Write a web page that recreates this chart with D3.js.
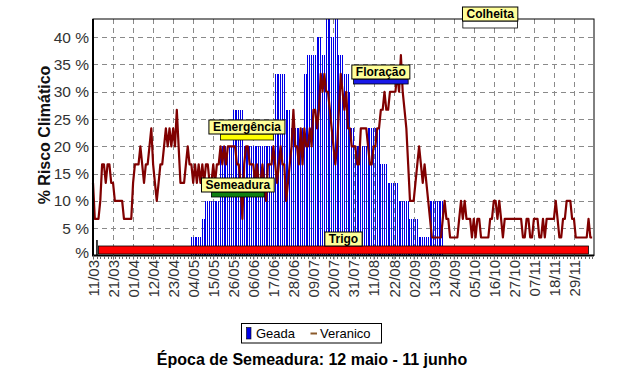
<!DOCTYPE html>
<html>
<head>
<meta charset="utf-8">
<script src="https://cdn.jsdelivr.net/npm/d3@7"></script>
<style>
  body { margin: 0; background: #fff; }
  svg { display: block; font-family: Arial, "Liberation Sans", sans-serif; }
</style>
</head>
<body>
<svg id="chart" width="625" height="389"></svg>
<script>

// rótulos do eixo x (um a cada 11 dias)
const tickLabels = ['11/03', '21/03', '01/04', '12/04', '23/04', '04/05', '15/05', '26/05', '06/06',
  '17/06', '28/06', '09/07', '20/07', '31/07', '11/08', '22/08', '02/09', '13/09', '24/09',
  '05/10', '16/10', '27/10', '07/11', '18/11', '29/11'];

const yTicks = [0, 5, 10, 15, 20, 25, 30, 35, 40];
const yTickLabels = ['%', '5 %', '10 %', '15 %', '20 %', '25 %', '30 %', '35 %', '40 %'];

// risco diario (%)
const veranico = [
  13.3, 6.7, 6.7, 6.7, 10, 16.7, 16.7, 13.3, 16.7, 16.7,
  13.3, 13.3, 10, 10, 10, 10, 10, 6.7, 6.7, 6.7,
  6.7, 6.7, 13.3, 16.7, 16.7, 16.7, 20, 16.7, 13.3, 16.7,
  16.7, 20, 23.3, 16.7, 13.3, 10, 13.3, 16.7, 16.7, 20,
  23.3, 20, 23.3, 20, 23.3, 20, 26.7, 20, 13.3, 13.3,
  13.3, 16.7, 20, 16.7, 16.7, 13.3, 16.7, 13.3, 16.7, 13.3,
  16.7, 13.3, 16.7, 16.7, 13.3, 13.3, 16.7, 13.3, 16.7, 16.7,
  20, 16.7, 20, 16.7, 20, 20, 20, 20, 20, 16.7,
  16.7, 13.3, 6.7, 16.7, 20, 20, 16.7, 16.7, 16.7, 13.3,
  16.7, 13.3, 13.3, 16.7, 13.3, 10, 16.7, 16.7, 16.7, 20,
  16.7, 13.3, 16.7, 20, 16.7, 16.7, 10, 13.3, 16.7, 20,
  26.7, 20, 20, 16.7, 23.3, 16.7, 23.3, 20, 20, 23.3,
  20, 26.7, 26.7, 23.3, 26.7, 33.3, 30, 33.3, 30, 30,
  26.7, 23.3, 20, 16.7, 20, 26.7, 33.3, 30, 26.7, 30,
  23.3, 23.3, 20, 20, 20, 16.7, 16.7, 23.3, 23.3, 23.3,
  23.3, 20, 16.7, 16.7, 20, 20, 23.3, 23.3, 26.7, 26.7,
  30, 26.7, 26.7, 30, 30, 30, 30, 33.3, 30, 36.7,
  30, 26.7, 23.3, 16.7, 10, 10, 10, 13.3, 16.7, 20,
  16.7, 13.3, 16.7, 13.3, 10, 6.7, 3.3, 3.3, 3.3, 3.3,
  3.3, 3.3, 6.7, 10, 6.7, 6.7, 3.3, 3.3, 3.3, 3.3,
  3.3, 6.7, 10, 6.7, 10, 6.7, 6.7, 6.7, 3.3, 6.7,
  3.3, 6.7, 6.7, 3.3, 3.3, 3.3, 3.3, 3.3, 6.7, 6.7,
  10, 10, 6.7, 10, 6.7, 3.3, 6.7, 6.7, 6.7, 6.7,
  6.7, 6.7, 6.7, 6.7, 6.7, 6.7, 3.3, 3.3, 6.7, 6.7,
  3.3, 3.3, 6.7, 6.7, 6.7, 3.3, 3.3, 6.7, 3.3, 6.7,
  6.7, 6.7, 6.7, 6.7, 10, 6.7, 3.3, 3.3, 6.7, 6.7,
  10, 10, 10, 6.7, 6.7, 3.3, 3.3, 3.3, 3.3, 3.3,
  3.3, 3.3, 6.7, 3.3, 3.3
];

const geada = [
  0, 0, 0, 0, 0, 0, 0, 0, 0, 0,
  0, 0, 0, 0, 0, 0, 0, 0, 0, 0,
  0, 0, 0, 0, 0, 0, 0, 0, 0, 0,
  0, 0, 0, 0, 0, 0, 0, 0, 0, 0,
  0, 0, 0, 0, 0, 0, 0, 0, 0, 0,
  0, 0, 0, 0, 3.3, 3.3, 3.3, 3.3, 3.3, 3.3,
  6.7, 6.7, 10, 10, 10, 10, 10, 10, 10, 10,
  20, 20, 20, 20, 20, 20, 20, 26.7, 26.7, 26.7,
  26.7, 26.7, 26.7, 20, 20, 20, 20, 20, 20, 20,
  20, 20, 20, 20, 20, 20, 20, 20, 20, 20,
  33.3, 33.3, 33.3, 33.3, 33.3, 33.3, 26.7, 26.7, 26.7, 23.3,
  23.3, 23.3, 23.3, 23.3, 23.3, 23.3, 33.3, 33.3, 36.7, 36.7,
  36.7, 36.7, 36.7, 40, 40, 40, 36.7, 36.7, 43.3, 43.3,
  43.3, 40, 40, 43.3, 43.3, 36.7, 36.7, 36.7, 33.3, 33.3,
  33.3, 30, 23.3, 23.3, 20, 20, 20, 20, 20, 20,
  20, 23.3, 23.3, 23.3, 23.3, 23.3, 23.3, 23.3, 16.7, 16.7,
  16.7, 16.7, 13.3, 13.3, 13.3, 13.3, 13.3, 13.3, 10, 10,
  10, 10, 10, 10, 6.7, 6.7, 6.7, 6.7, 6.7, 3.3,
  3.3, 3.3, 3.3, 3.3, 3.3, 10, 10, 10, 10, 10,
  10, 10, 10, 0, 0, 0, 0, 0, 0, 0,
  0, 0, 0, 0, 0, 0, 0, 0, 0, 0,
  0, 0, 0, 0, 0, 0, 0, 0, 0, 0,
  0, 0, 0, 0, 0, 0, 0, 0, 0, 0,
  0, 0, 0, 0, 0, 0, 0, 0, 0, 0,
  0, 0, 0, 0, 0, 0, 0, 0, 0, 0,
  0, 0, 0, 0, 0, 0, 0, 0, 0, 0,
  0, 0, 0, 0, 0, 0, 0, 0, 0, 0,
  0, 0, 0, 0, 0
];

// fases do ciclo (indice do dia inicial e final)
const etapas = ['Semeadura', 'Emergência', 'Floração', 'Colheita', 'Trigo'];
const etapaInicio = [65, 70, 143, 203, 3];
const etapaFim = [94, 99, 173, 233, 272];

const series = ['Geada', 'Veranico'];


const svg = d3.select('#chart');

const yMax = 43.33;
const x = d3.scaleLinear().domain([0, veranico.length]).range([93, 594]);
const y = d3.scaleLinear().domain([0, yMax]).range([255.5, 19]);

const corGeada = '#0000e8';
const corVeranico = '#800000';

// grade tracejada
let drawGrid = () => {
  const g = svg.append('g')
    .attr('stroke', '#8a8a8a')
    .attr('stroke-width', 1)
    .attr('stroke-dasharray', '5,4');

  g.selectAll('line.h').data(yTicks.slice(1))
    .enter().append('line')
    .attr('x1', x(0)).attr('x2', x(veranico.length))
    .attr('y1', d => Math.round(y(d)) + 0.5)
    .attr('y2', d => Math.round(y(d)) + 0.5);

  g.selectAll('line.v').data(tickLabels.slice(1).map((d, i) => (i + 1) * 11))
    .enter().append('line')
    .attr('x1', d => Math.round(x(d)) + 0.5)
    .attr('x2', d => Math.round(x(d)) + 0.5)
    .attr('y1', y(yMax)).attr('y2', y(0));
}

let drawBars = () => {
  svg.append('g')
    .attr('shape-rendering', 'crispEdges')
    .selectAll('rect')
    .data(geada.map((v, i) => ({ i: i, v: v })).filter(d => d.v > 0))
    .enter().append('rect')
    .attr('x', d => x(d.i) - 0.5)
    .attr('width', 1)
    .attr('y', d => y(d.v))
    .attr('height', d => y(0) - y(d.v))
    .attr('fill', corGeada);
}

let drawLine = () => {
  const line = d3.line()
    .x((d, i) => x(i))
    .y(d => y(d));

  svg.append('path')
    .datum(veranico)
    .attr('d', line)
    .attr('fill', 'none')
    .attr('stroke', corVeranico)
    .attr('stroke-width', 2.2)
    .attr('stroke-linejoin', 'round');
}

let drawAxes = () => {
  // moldura
  svg.append('rect')
    .attr('x', x(0)).attr('y', y(yMax))
    .attr('width', x(veranico.length) - x(0))
    .attr('height', y(0) - y(yMax))
    .attr('fill', 'none')
    .attr('stroke', '#000')
    .attr('stroke-width', 1);

  svg.append('line')
    .attr('x1', x(0)).attr('x2', x(0))
    .attr('y1', y(yMax)).attr('y2', y(0) + 1)
    .attr('stroke', '#000').attr('stroke-width', 2);
  svg.append('line')
    .attr('x1', x(0)).attr('x2', x(veranico.length))
    .attr('y1', y(0)).attr('y2', y(0))
    .attr('stroke', '#000').attr('stroke-width', 2);

  // marcas menores
  svg.append('g')
    .selectAll('line')
    .data(d3.range(0, veranico.length, 2))
    .enter().append('line')
    .attr('x1', d => Math.round(x(d)) + 0.5)
    .attr('x2', d => Math.round(x(d)) + 0.5)
    .attr('y1', y(0) + 1).attr('y2', y(0) + 3.5)
    .attr('stroke', '#666');

  const xAxis = d3.axisBottom(x)
    .tickValues(tickLabels.map((d, i) => i * 11))
    .tickFormat((d, i) => tickLabels[i])
    .tickSize(4);

  const gx = svg.append('g')
    .attr('transform', 'translate(0,' + y(0) + ')')
    .call(xAxis);
  gx.select('.domain').remove();
  gx.selectAll('.tick line').attr('stroke', '#666');
  gx.selectAll('text')
    .attr('transform', 'rotate(-90)')
    .attr('text-anchor', 'end')
    .attr('x', -4.5)
    .attr('y', 0)
    .attr('dy', '0.36em')
    .attr('fill', '#333')
    .style('font-size', '15px')
    .style('font-family', 'Arial, "Liberation Sans", sans-serif');

  const yAxis = d3.axisLeft(y)
    .tickValues(yTicks)
    .tickFormat((d, i) => yTickLabels[i])
    .tickSize(0)
    .tickPadding(4);

  const gy = svg.append('g')
    .attr('transform', 'translate(' + x(0) + ',0)')
    .call(yAxis);
  gy.select('.domain').remove();
  gy.selectAll('text')
    .attr('fill', '#333')
    .style('font-size', '15.5px')
    .style('font-family', 'Arial, "Liberation Sans", sans-serif');
  gy.selectAll('.tick').filter(d => d === 0).select('text').attr('dy', '0.1em');

  svg.append('text')
    .attr('transform', 'translate(50,135) rotate(-90)')
    .attr('text-anchor', 'middle')
    .style('font-size', '16px')
    .style('font-weight', 'bold')
    .attr('fill', '#111')
    .text('% Risco Climático');
}

// fases: faixa colorida com etiqueta amarela por cima
let drawStages = () => {
  const faixaTopo = [192, 134, 79, 21, 246];
  const faixaAltura = [5, 6, 5, 7, 8];
  const faixaCor = ['#108010', '#ffff00', '#1818e8', '#ffffff', '#ff0000'];

  etapas.forEach((nome, i) => {
    const x0 = x(etapaInicio[i]);
    const x1 = x(etapaFim[i]);
    const cx = (x0 + x1) / 2;
    const g = svg.append('g');

    g.append('rect')
      .attr('x', x0).attr('y', faixaTopo[i])
      .attr('width', x1 - x0).attr('height', faixaAltura[i])
      .attr('fill', faixaCor[i])
      .attr('stroke', '#000')
      .attr('stroke-width', 0.8);

    const label = g.append('text')
      .attr('x', cx).attr('y', faixaTopo[i] - 3)
      .attr('text-anchor', 'middle')
      .style('font-size', '12px')
      .style('font-weight', 'bold')
      .text(nome);
    const w = label.node().getComputedTextLength() + 8;

    g.insert('rect', 'text')
      .attr('x', cx - w / 2).attr('y', faixaTopo[i] - 14)
      .attr('width', w).attr('height', 14)
      .attr('fill', '#ffff99')
      .attr('stroke', '#000')
      .attr('stroke-width', 1);
  });

  // marca de inicio do ciclo
  svg.append('line')
    .attr('x1', x(etapaInicio[4]) - 1.5).attr('x2', x(etapaInicio[4]) - 1.5)
    .attr('y1', 240).attr('y2', y(0))
    .attr('stroke', '#000').attr('stroke-width', 1.5);
}

let drawLegend = () => {
  const g = svg.append('g');
  g.append('rect')
    .attr('x', 241.5).attr('y', 323.5)
    .attr('width', 140).attr('height', 19.5)
    .attr('fill', '#fff').attr('stroke', '#000');

  g.append('rect')
    .attr('x', 246.5).attr('y', 327.5)
    .attr('width', 4.5).attr('height', 11.5)
    .attr('fill', corGeada).attr('stroke', '#000').attr('stroke-width', 0.6);
  g.append('text')
    .attr('x', 256).attr('y', 338)
    .style('font-size', '13px')
    .text(series[0]);

  g.append('line')
    .attr('x1', 310.5).attr('x2', 317)
    .attr('y1', 333.5).attr('y2', 333.5)
    .attr('stroke', '#8b5a2b').attr('stroke-width', 2);
  g.append('text')
    .attr('x', 320).attr('y', 338)
    .style('font-size', '13px')
    .text(series[1]);

  svg.append('text')
    .attr('x', 312).attr('y', 365)
    .attr('text-anchor', 'middle')
    .style('font-size', '16px')
    .style('font-weight', 'bold')
    .text('Época de Semeadura: 12 maio - 11 junho');
}

drawGrid();
drawBars();
drawLine();
drawAxes();
drawStages();
drawLegend();

</script>
</body>
</html>
